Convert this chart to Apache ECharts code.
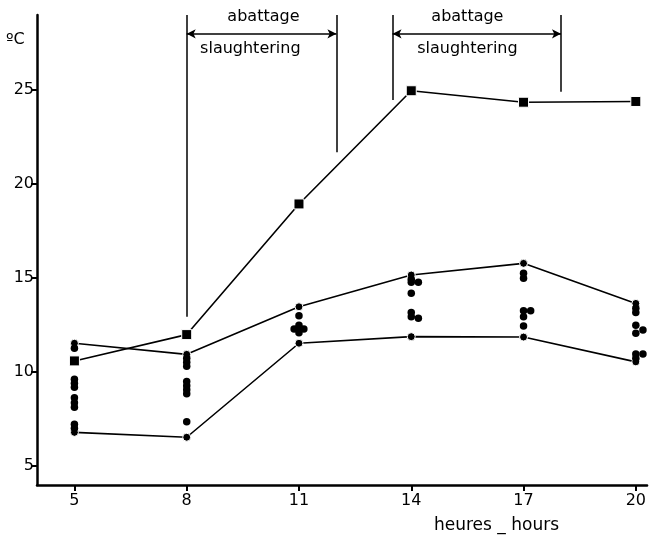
<!DOCTYPE html>
<html><head><meta charset="utf-8">
<script src="https://cdn.jsdelivr.net/npm/echarts@6/dist/echarts.min.js"></script>
<style>html,body{margin:0;padding:0;background:#fff}#c{width:649px;height:540px}</style>
</head><body><div id="c"></div>
<script>
// axis ticks
const hourTicks = [5, 8, 11, 14, 17, 20];
const tempTicks = [5, 10, 15, 20, 25];

// connected series (one value per hour tick)
const squareTemps = [10.6, 12.0, 18.95, 24.97, 24.36, 24.4];
const upperTemps  = [11.54, 10.95, 13.48, 15.17, 15.79, 13.66];
const lowerTemps  = [6.8, 6.54, 11.54, 11.89, 11.87, 10.55];

// individual readings (small hour offsets = side-by-side dots in the original)
const dotHours = [
  5, 5, 5, 5, 5, 5, 5, 5, 5,
  8, 8, 8, 8, 8, 8, 8, 8,
  11, 11, 10.87, 11, 11.13, 11,
  14, 14, 14.19, 14, 14, 14, 14.19,
  17, 17, 17, 17.19, 17, 17,
  20, 20, 20, 20.19, 20, 20, 20.19, 20
];
const dotTemps = [
  11.27, 9.62, 9.41, 9.2, 8.64, 8.38, 8.13, 7.23, 7.02,
  10.74, 10.53, 10.31, 9.5, 9.28, 9.07, 8.86, 7.37,
  13.0, 12.5, 12.3, 12.3, 12.3, 12.1,
  14.94, 14.78, 14.78, 14.2, 13.17, 12.95, 12.87,
  15.26, 15.0, 13.27, 13.27, 12.95, 12.46,
  13.4, 13.17, 12.5, 12.24, 12.07, 10.97, 10.97, 10.74
];

// slaughtering periods (hours) and bracket extents (°C)
const slaughterStart = [8, 13.5];
const slaughterEnd = [12, 18];
const startLineBottom = [12.95, 24.48];
const endLineBottom = [21.7, 24.92];
const bracketTop = 29;
const arrowLevel = 28;

// annotation texts
const labelTexts = ['abattage', 'slaughtering', 'abattage', 'slaughtering'];
const labelHours = [10.05, 9.7, 15.5, 15.5];
const labelTemps = [28.9, 27.2, 28.9, 27.2];

const pairs = (ys) => hourTicks.map((h, i) => [h, ys[i]]);
const FONT = 'DejaVu Sans';

const bracketLines = [];
slaughterStart.forEach((s, i) => {
  const e = slaughterEnd[i];
  bracketLines.push([{coord: [s, bracketTop]}, {coord: [s, startLineBottom[i]]}]);
  bracketLines.push([{coord: [e, bracketTop]}, {coord: [e, endLineBottom[i]]}]);
});
const arrowLines = slaughterStart.map((s, i) => [{coord: [s, arrowLevel]}, {coord: [slaughterEnd[i], arrowLevel]}]);

const lineSeries = (name, ys, symbol, size) => ({
  name, type: 'line', data: pairs(ys), symbol, symbolSize: size,
  showSymbol: true,
  itemStyle: {color: '#000', borderColor: '#fff', borderWidth: 1, opacity: 1},
  lineStyle: {color: '#000', width: 1.6},
  z: 3
});

const chart = echarts.init(document.getElementById('c'), null, {renderer: 'canvas'});
chart.setOption({
  animation: false,
  backgroundColor: '#fff',
  grid: {left: 37, right: 0, top: 15, bottom: 55, containLabel: false},
  xAxis: {
    type: 'value', min: 4, max: 20.3,
    axisLine: {show: true, lineStyle: {color: '#000', width: 2.5}},
    axisTick: {show: true, customValues: hourTicks, length: 6, inside: false, lineStyle: {color: '#000', width: 2}},
    axisLabel: {customValues: hourTicks, color: '#000', fontSize: 16, fontFamily: FONT, margin: 8},
    splitLine: {show: false}
  },
  yAxis: {
    type: 'value', min: 4, max: 29,
    axisLine: {show: true, lineStyle: {color: '#000', width: 2.5}},
    axisTick: {show: true, customValues: tempTicks, length: 6, inside: false, lineStyle: {color: '#000', width: 2}},
    axisLabel: {customValues: tempTicks, color: '#000', fontSize: 16, fontFamily: FONT, margin: 3},
    splitLine: {show: false}
  },
  series: [
    lineSeries('squares', squareTemps, 'rect', 10),
    lineSeries('upper', upperTemps, 'circle', 8),
    lineSeries('lower', lowerTemps, 'circle', 8),
    {
      name: 'readings', type: 'scatter',
      data: dotHours.map((h, i) => [h, dotTemps[i]]),
      symbol: 'circle', symbolSize: 7.5,
      itemStyle: {color: '#000', opacity: 1},
      z: 4,
      markLine: {
        silent: true, symbol: ['none', 'none'],
        label: {show: false},
        lineStyle: {color: '#000', width: 1.5, type: 'solid', opacity: 1},
        data: bracketLines
      }
    },
    {
      name: 'arrows', type: 'scatter', data: [],
      markLine: {
        silent: true, symbol: ['arrow', 'arrow'], symbolSize: [7, 9],
        label: {show: false},
        lineStyle: {color: '#000', width: 1.5, type: 'solid', opacity: 1},
        itemStyle: {color: '#000', opacity: 1},
        data: arrowLines
      }
    },
    {
      name: 'labels', type: 'scatter', symbolSize: 0, silent: true,
      itemStyle: {opacity: 1},
      data: labelTexts.map((t, i) => ({name: t, value: [labelHours[i], labelTemps[i]]})),
      label: {show: true, position: 'inside', formatter: '{b}', color: '#000', fontSize: 16, fontFamily: FONT}
    }
  ],
  graphic: [
    {type: 'text', left: 6, top: 32, style: {text: 'ºC', fontSize: 16, fontFamily: FONT, fill: '#000'}},
    {type: 'text', left: 434, top: 517, style: {text: 'heures _ hours', fontSize: 17, fontFamily: FONT, fill: '#000'}}
  ]
});
</script>
</body></html>
